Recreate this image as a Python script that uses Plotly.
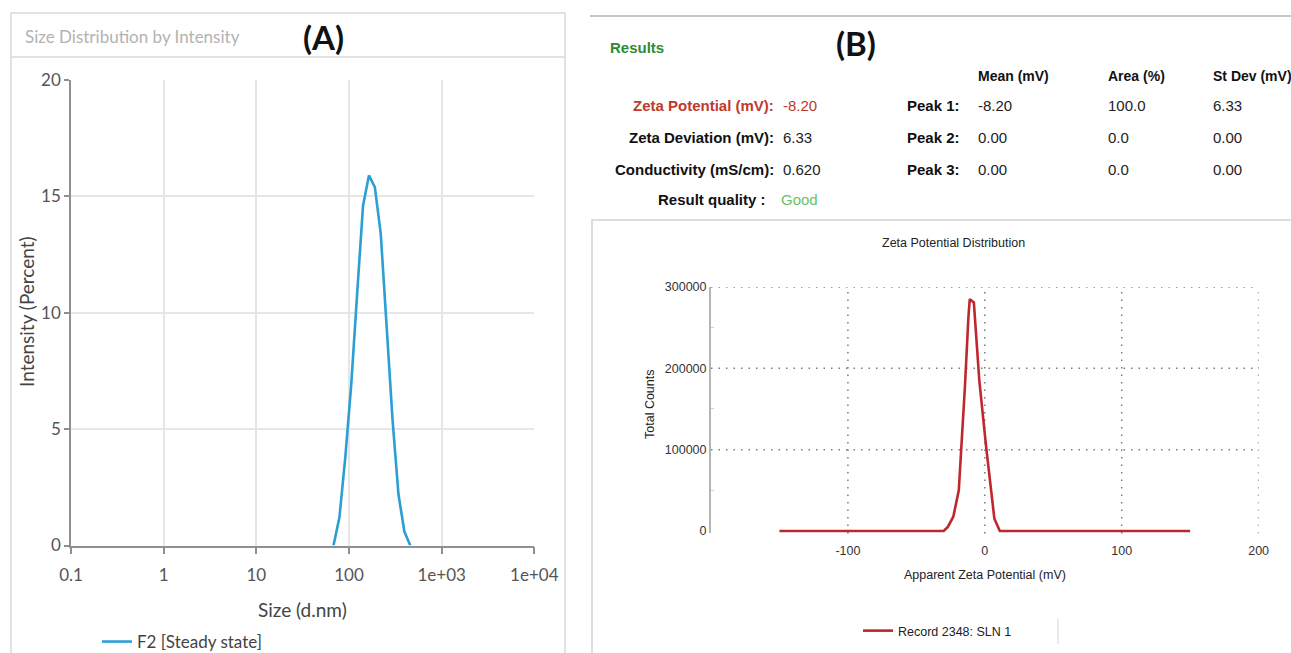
import plotly.graph_objects as go

# ---- (A) DLS size distribution by intensity ----
size_nm = [68.06, 78.82, 91.28, 105.7, 122.4, 141.8, 164.2, 190.1,
           220.2, 255.0, 295.3, 342.0, 396.1, 458.7]
intensity_pct = [0.0, 1.2, 3.8, 6.9, 10.8, 14.6, 15.9, 15.4,
                 13.4, 9.3, 5.4, 2.2, 0.6, 0.0]
size_ticks = [0.1, 1, 10, 100, 1000, 10000]
size_ticktext = ["0.1", "1", "10", "100", "1e+03", "1e+04"]
intensity_ticks = [0, 5, 10, 15, 20]

# ---- (B) zeta potential distribution ----
zeta_mv = [-150, -30, -27, -23, -19, -17, -14.5, -12, -11, -8, -4, 1, 7, 11, 150]
total_counts = [0, 0, 5000, 17500, 50000, 103000, 178000, 262000, 285000,
                281000, 185000, 103000, 15000, 0, 0]
zeta_ticks = [-100, 0, 100, 200]
zeta_ticktext = ["-100", "0", "100", "200"]
counts_ticks = [0, 100000, 200000, 300000]
counts_ticktext = ["0", "100000", "200000", "300000"]
counts_grid = [100000, 200000, 300000]

# ---- (B) results table ----
summary_labels = ["Zeta Potential (mV):", "Zeta Deviation (mV):",
                  "Conductivity (mS/cm):", "Result quality :"]
summary_values = ["-8.20", "6.33", "0.620", "Good"]
peak_names = ["Peak 1:", "Peak 2:", "Peak 3:"]
peak_mean = [-8.20, 0.00, 0.00]
peak_area = [100.0, 0.0, 0.0]
peak_sd = [6.33, 0.00, 0.00]
peak_headers = ["Mean (mV)", "Area (%)", "St Dev (mV)"]

W, H = 1291, 653


def px(x):
    return x / W


def py(y):
    return 1 - y / H


FONT_A = "Lato"
FONT_B = "Liberation Sans, Arial, sans-serif"
BLUE = "#2b9fd4"
RED = "#c0262d"

fig = go.Figure()
fig.add_trace(go.Scatter(
    x=size_nm, y=intensity_pct, mode="lines", name="F2 [Steady state]",
    line=dict(color=BLUE, width=2.6), xaxis="x", yaxis="y", legend="legend"))
fig.add_trace(go.Scatter(
    x=zeta_mv, y=total_counts, mode="lines", name="Record 2348: SLN 1",
    line=dict(color=RED, width=2.6), xaxis="x2", yaxis="y2", legend="legend2"))

axis_grey = "#8f8f8f"
fig.update_layout(
    width=W, height=H,
    margin=dict(l=0, r=0, t=0, b=0, pad=0, autoexpand=False),
    showlegend=True,
    paper_bgcolor="white", plot_bgcolor="white",
    xaxis=dict(
        type="log", range=[-1, 4], domain=[px(71), px(534.3)], anchor="y",
        tickvals=size_ticks, ticktext=size_ticktext,
        showgrid=True, gridcolor="#e6e6e6", gridwidth=1.5, zeroline=False,
        showline=True, linecolor=axis_grey, linewidth=1.5,
        ticks="outside", ticklen=7, tickwidth=1.5, tickcolor=axis_grey,
        tickfont=dict(family=FONT_A, size=17, color="#555555"),
        ticklabelstandoff=6),
    yaxis=dict(
        range=[0, 20], domain=[py(545.5), py(80)], anchor="x",
        tickvals=intensity_ticks,
        showgrid=True, gridcolor="#e6e6e6", gridwidth=1.5, zeroline=False,
        showline=True, linecolor=axis_grey, linewidth=1.5,
        ticks="outside", ticklen=5, tickwidth=1.5, tickcolor=axis_grey,
        tickfont=dict(family=FONT_A, size=17, color="#555555")),
    xaxis2=dict(
        range=[-200, 200], domain=[px(711), px(1258.6)], anchor="y2",
        tickvals=zeta_ticks, ticktext=zeta_ticktext,
        showgrid=False, zeroline=False, showline=False,
        ticks="", tickfont=dict(family=FONT_B, size=12.5, color="#333333"),
        ticklabelstandoff=8),
    yaxis2=dict(
        range=[-3000, 300000], domain=[py(533.4), py(287)], anchor="x2",
        tickvals=counts_ticks, ticktext=counts_ticktext,
        showgrid=False, zeroline=False,
        showline=True, linecolor="#b5b5b5", linewidth=2, ticks="",
        minor=dict(ticks="inside", ticklen=3, tickcolor="#d0d0d0",
                   tickvals=[50000, 150000, 250000]),
        tickfont=dict(family=FONT_B, size=12.5, color="#333333")),
    legend=dict(x=px(97), y=py(642), xanchor="left", yanchor="middle",
                bgcolor="rgba(0,0,0,0)", borderwidth=0,
                font=dict(family=FONT_A, size=17, color="#444444")),
    legend2=dict(x=px(858), y=py(631), xanchor="left", yanchor="middle",
                 bgcolor="rgba(0,0,0,0)", borderwidth=0,
                 font=dict(family=FONT_B, size=12.5, color="#222222")),
)

shapes = [
    # panel A frame and header divider
    dict(type="rect", xref="paper", yref="paper", x0=px(11), x1=px(565),
         y0=py(13), y1=py(670), line=dict(color="#dadada", width=1.5)),
    dict(type="line", xref="paper", yref="paper", x0=px(11), x1=px(565),
         y0=py(57), y1=py(57), line=dict(color="#dadada", width=1.5)),
    # panel B top rule and chart frame
    dict(type="line", xref="paper", yref="paper", x0=px(590), x1=1.0,
         y0=py(16), y1=py(16), line=dict(color="#c8c8c8", width=2)),
    dict(type="rect", xref="paper", yref="paper", x0=px(592), x1=px(1300),
         y0=py(220), y1=py(670), line=dict(color="#d2d2d2", width=1.5)),
    # legend divider in panel B
    dict(type="line", xref="paper", yref="paper", x0=px(1058), x1=px(1058),
         y0=py(619), y1=py(644), line=dict(color="#e2e2e2", width=1.5)),
]
for v in counts_grid:
    shapes.append(dict(type="line", xref="x2 domain", yref="y2", x0=0, x1=1,
                       y0=v, y1=v, layer="below",
                       line=dict(color="#7a7a7a", width=1.5, dash="1.5px,6px")))
for v in zeta_ticks:
    shapes.append(dict(type="line", xref="x2", yref="y2 domain", x0=v, x1=v,
                       y0=0, y1=1, layer="below",
                       line=dict(color="#7a7a7a", width=1.5, dash="1.5px,6px")))
fig.update_layout(shapes=shapes)

ann = []


def text(x, y, s, size, color, family, xanchor="center", bold=False, angle=0):
    ann.append(dict(
        x=px(x), y=py(y), xref="paper", yref="paper", showarrow=False,
        text=f"<b>{s}</b>" if bold else s, xanchor=xanchor, yanchor="middle",
        textangle=angle, font=dict(family=family, size=size, color=color)))


# panel A texts
text(23, 37, "Size Distribution by Intensity", 17, "#b2b2b2", FONT_A, "left")
text(323, 37, "(A)", 33, "#111111", FONT_A, bold=True)
text(302.5, 609, "Size (d.nm)", 19, "#444444", FONT_A)
text(27, 312, "Intensity (Percent)", 19, "#444444", FONT_A, angle=-90)

# panel B results block
text(608, 47, "Results", 15, "#2f8a34", FONT_B, "left", bold=True)
text(856, 43, "(B)", 33, "#111111", FONT_A, bold=True)
row_y = [105, 138, 169.5, 200]
label_colors = ["#c0392b", "#111111", "#111111", "#111111"]
value_colors = ["#c0392b", "#222222", "#222222", "#6abf69"]
label_right = [776, 776, 776, 768]
value_left = [781, 781, 781, 779]
for i, (lab, val) in enumerate(zip(summary_labels, summary_values)):
    text(label_right[i], row_y[i], lab, 15, label_colors[i], FONT_B, "right", bold=True)
    text(value_left[i], row_y[i], val, 15, value_colors[i], FONT_B, "left")

col_x = [976, 1106, 1211]
for cx, hdr in zip(col_x, peak_headers):
    text(cx, 76, hdr, 14, "#111111", FONT_B, "left", bold=True)
for i, name in enumerate(peak_names):
    text(962, row_y[i], name, 15, "#111111", FONT_B, "right", bold=True)
    text(col_x[0], row_y[i], f"{peak_mean[i]:.2f}", 15, "#222222", FONT_B, "left")
    text(col_x[1], row_y[i], f"{peak_area[i]:.1f}", 15, "#222222", FONT_B, "left")
    text(col_x[2], row_y[i], f"{peak_sd[i]:.2f}", 15, "#222222", FONT_B, "left")

# panel B chart texts
text(953, 243, "Zeta Potential Distribution", 12.5, "#222222", FONT_B)
text(985, 575, "Apparent Zeta Potential (mV)", 12.5, "#222222", FONT_B)
text(650, 405, "Total Counts", 12.5, "#222222", FONT_B, angle=-90)

fig.update_layout(annotations=ann)
fig.write_html("out.html")
